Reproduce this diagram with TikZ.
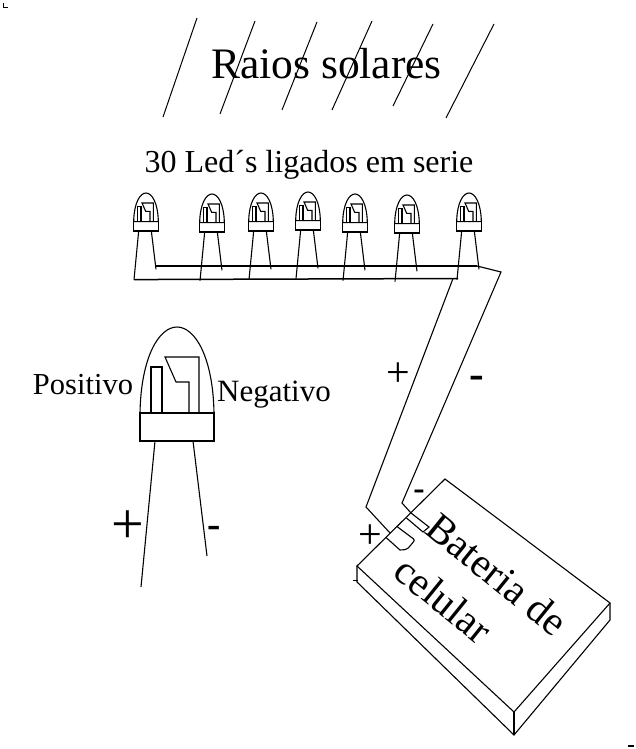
\documentclass[tikz,border=0pt]{standalone}
\usepackage{fontspec}
\setmainfont{Liberation Serif}
\tikzset{
  wire/.style={line width=1.1pt,line join=miter,black},
  thinwire/.style={line width=1pt,black},
  busline/.style={line width=1.5pt,black},
  lbl/.style={inner sep=0pt,outer sep=0pt,text=black},
  pics/ledlamp/.style={code={
    \begin{scope}[scale=#1,transform shape=false]
      \draw[wire] (-37,86) .. controls (-36,30) and (-18,0) .. (0,0) .. controls (18,0) and (36,30) .. (37,86) -- cycle;
      \draw[wire] (-37,86) rectangle (37,114);
      \draw[wire] (-26,86) -- (-26,40) -- (-15,40) -- (-15,86);
      \draw[wire] (12,86) -- (12,55) -- (-1,55) -- (-12,30) -- (22,30) -- (22,86);
      \coordinate (-pt) at (-22,114);
      \coordinate (-nt) at (16,114);
      \coordinate (-p) at (-36,260);
      \coordinate (-n) at (30,229);
      \draw[wire] (-pt) -- (-p);
      \draw[wire] (-nt) -- (-n);
    \end{scope}
  }}
}
\begin{document}
\begin{tikzpicture}[x=1pt,y=-1pt]
\useasboundingbox (0,0) rectangle (635,749);
% rays
\coordinate (r1a) at (197,18); \coordinate (r1b) at (163,117);
\coordinate (r2a) at (255,21); \coordinate (r2b) at (220,114);
\coordinate (r3a) at (317,22); \coordinate (r3b) at (282,110);
\coordinate (r4a) at (372,21); \coordinate (r4b) at (332,110);
\coordinate (r5a) at (433,24); \coordinate (r5b) at (393,106);
\coordinate (r6a) at (494,24); \coordinate (r6b) at (446,118);
\foreach \i in {1,...,6} \draw[thinwire] (r\i a) -- (r\i b);
\node[lbl,font=\fontsize{43.5}{43.5}\selectfont] (raios) at (326.5,63.5) {Raios solares};
\node[lbl,font=\fontsize{32}{32}\selectfont] (titulo) at (309,164.5) {30 Led´s ligados em serie};
% small LEDs
\pic (l1) at (146,193) {ledlamp=0.333};
\pic (l2) at (212,194) {ledlamp=0.333};
\pic (l3) at (261,193) {ledlamp=0.333};
\pic (l4) at (308,192) {ledlamp=0.333};
\pic (l5) at (355,194) {ledlamp=0.333};
\pic (l6) at (407,195) {ledlamp=0.333};
\pic (l7) at (469,193) {ledlamp=0.333};
% buses
\coordinate (busn) at (l1-n);
\coordinate (bust) at (477,266);
\coordinate (busp) at (458,278.5);
\draw[busline] (busn |- bust) -- (bust);
\draw[busline] (l1-p) -- (busp);
% big LED
\pic (big) at (177,327) {ledlamp=1};
\node[lbl,font=\fontsize{30.5}{30.5}\selectfont] (pos) at (83,385) {Positivo};
\node[lbl,font=\fontsize{31}{31}\selectfont] (neg) at (274,395) {Negativo};
\node[lbl,font=\fontsize{58}{58}\selectfont] (bigplus) at (128,527) {+};
\node[lbl,font=\fontsize{40}{40}\selectfont\bfseries] (bigminus) at (214,532) {-};
% battery
\coordinate (bT) at (445,479);
\coordinate (bR) at (610,603);
\coordinate (bF) at (514,712);
\coordinate (bL) at (357,566);
\coordinate (bR2) at (610,620);
\coordinate (bF2) at (514,735);
\coordinate (bL2) at (357,582);
\draw[wire] (bT) -- (bR) -- (bF) -- (bL) -- cycle;
\draw[wire] (bR) -- (bR2) -- (bF2) -- (bL2) -- (bL);
\draw[wire] (bF) -- (bF2);
% terminals
\coordinate (tn) at (411,513);
\coordinate (tp) at (390,533);
\draw[wire] (tn) -- (429,527) -- (423,532) -- (406.5,518);
\draw[wire] (386,537.5) -- (400,550) [rounded corners=2pt] -- (407,549.5) -- (415,540) -- (397,526.5);
% wires to battery
\coordinate (w1) at (366,507);
\coordinate (w2) at (402,503);
\coordinate (w3) at (501,272);
\draw[wire] (453,278.5) -- (w1) -- (tp);
\draw[wire] (bust) -- (w3) -- (w2) -- (tn);
% polarity signs
\node[lbl,font=\fontsize{42}{42}\selectfont] (wplus) at (398,375) {+};
\node[lbl,font=\fontsize{44}{44}\selectfont\bfseries] (wminus) at (477,382) {-};
\node[lbl,font=\fontsize{34}{34}\selectfont\bfseries] (tminus) at (419,495) {-};
\node[lbl,font=\fontsize{42}{42}\selectfont] (tplus) at (370,537) {+};
% battery text
\node[lbl,font=\fontsize{41}{41}\selectfont,rotate=-39] (b1) at (497,574) {Bateria de};
\node[lbl,font=\fontsize{41}{41}\selectfont,rotate=-39] (b2) at (444,600) {celular};
% stray marks
\coordinate (s1) at (353,580); \coordinate (s2) at (358,580);
\draw[thinwire] (s1) -- (s2);
\coordinate (s3) at (628,746); \coordinate (s4) at (634,746);
\draw[line width=1.4pt] (s3) -- (s4);
\coordinate (s5) at (3,3); \coordinate (s6) at (3,8); \coordinate (s7) at (8,8);
\draw[thinwire] (s5) -- (s6) -- (s7);
\end{tikzpicture}
\end{document}
